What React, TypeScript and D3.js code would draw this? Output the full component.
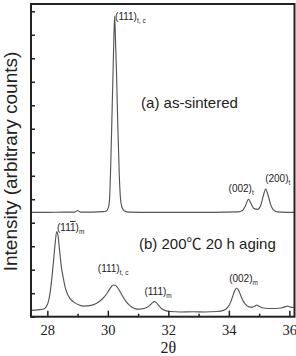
import React, { useEffect, useRef } from 'react';
import * as d3 from 'd3';

// XRD scans as [2θ, intensity] pairs
const sinteredScan: [number, number][] = [
  [27.46, 4.44], [28.0, 4.44], [28.5, 4.45], [28.9, 4.45], [29.0, 4.52], [29.1, 4.45],
  [29.5, 4.45], [29.85, 4.47], [29.95, 4.5], [30.02, 4.65], [30.06, 5.1], [30.09, 6.2],
  [30.13, 8.2], [30.17, 10.3], [30.2, 11.9], [30.225, 12.8], [30.25, 11.9], [30.29, 10.2],
  [30.33, 8.1], [30.38, 5.97], [30.42, 5.0], [30.47, 4.65], [30.55, 4.5], [30.7, 4.45],
  [31.5, 4.44], [32.5, 4.44], [33.5, 4.44], [34.3, 4.46], [34.45, 4.52], [34.55, 4.72],
  [34.65, 5.0], [34.74, 4.8], [34.83, 4.6], [34.95, 4.57], [35.05, 4.72], [35.13, 5.1],
  [35.22, 5.43], [35.3, 5.15], [35.38, 4.78], [35.47, 4.55], [35.6, 4.46], [35.9, 4.44],
  [36.17, 4.44],
];

const agedScan: [number, number][] = [
  [27.46, 0.27], [27.6, 0.28], [27.75, 0.3], [27.88, 0.33], [27.96, 0.42], [28.03, 0.62],
  [28.09, 1.0], [28.15, 1.65], [28.2, 2.3], [28.25, 3.0], [28.31, 3.62], [28.36, 3.4],
  [28.41, 2.75], [28.46, 2.15], [28.52, 1.7], [28.58, 1.3], [28.66, 0.98], [28.76, 0.76],
  [28.9, 0.6], [29.05, 0.5], [29.2, 0.45], [29.4, 0.47], [29.6, 0.55], [29.75, 0.68],
  [29.89, 0.85], [30.0, 1.05], [30.1, 1.25], [30.18, 1.35], [30.25, 1.34], [30.33, 1.22],
  [30.42, 1.03], [30.5, 0.85], [30.6, 0.65], [30.72, 0.48], [30.85, 0.37], [30.97, 0.32],
  [31.1, 0.33], [31.25, 0.37], [31.38, 0.47], [31.47, 0.59], [31.54, 0.64], [31.6, 0.6],
  [31.68, 0.48], [31.78, 0.34], [31.9, 0.26], [32.05, 0.22], [32.4, 0.2], [32.8, 0.21],
  [33.2, 0.2], [33.6, 0.22], [33.82, 0.27], [33.96, 0.4], [34.06, 0.62], [34.14, 0.92],
  [34.2, 1.12], [34.25, 1.21], [34.31, 1.15], [34.38, 0.95], [34.45, 0.72], [34.55, 0.52],
  [34.66, 0.42], [34.78, 0.41], [34.87, 0.46], [34.93, 0.5], [35.0, 0.44], [35.1, 0.38],
  [35.3, 0.35], [35.55, 0.35], [35.75, 0.38], [35.87, 0.43], [35.94, 0.45], [36.02, 0.42],
  [36.1, 0.39], [36.17, 0.4],
];

const majorTicks = [28, 30, 32, 34, 36];
const minorTicks = [29, 31, 33, 35];
const intensityTicks = [0, 1, 2, 3, 4, 5, 6, 7, 8, 9, 10, 11, 12, 13];

// reflection labels: text, overlined digit, closing text, subscript, anchor in data units
const peakLabels = [
  { text: '(111)', bar: '', tail: '', sub: 't, c', theta: 30.24, level: 12.63 },
  { text: '(002)', bar: '', tail: '', sub: 't', theta: 33.99, level: 5.32 },
  { text: '(200)', bar: '', tail: '', sub: 't', theta: 35.2, level: 5.74 },
  { text: '(11', bar: '1', tail: ')', sub: 'm', theta: 28.32, level: 3.65 },
  { text: '(111)', bar: '', tail: '', sub: 't, c', theta: 29.67, level: 1.89 },
  { text: '(111)', bar: '', tail: '', sub: 'm', theta: 31.21, level: 0.92 },
  { text: '(002)', bar: '', tail: '', sub: 'm', theta: 34.01, level: 1.49 },
];

const scanTitles = [
  { text: '(a) as-sintered', theta: 31.1, level: 8.88 },
  { text: '(b) 200\u2103 20 h aging', theta: 31.03, level: 2.9 },
];

const sans = '"Liberation Sans", Arial, "Noto Sans CJK SC", sans-serif';
const serif = '"Liberation Serif", "Times New Roman", serif';

export default function App() {
  const ref = useRef<SVGSVGElement>(null);

  useEffect(() => {
    const svg = d3.select(ref.current);
    svg.selectAll('*').remove();

    const left = 31, right = 294.5, top = 4, bottom = 316.7;

    const x = d3.scaleLinear().domain([27.46, 36.17]).range([left, right]);
    const y = d3.scaleLinear().domain([0, 13.31]).range([bottom, top]);

    const line = d3.line<[number, number]>()
      .x(d => x(d[0]))
      .y(d => y(d[1]))
      .curve(d3.curveMonotoneX);

    // scans
    [sinteredScan, agedScan].forEach(scan => {
      svg.append('path')
        .attr('d', line(scan))
        .attr('fill', 'none')
        .attr('stroke', '#555')
        .attr('stroke-width', 1.15);
    });

    // major ticks with labels, pointing inward
    const xMajor = svg.append('g')
      .attr('transform', `translate(0, ${bottom})`)
      .call(d3.axisBottom(x).tickValues(majorTicks).tickSizeInner(-6).tickSizeOuter(0).tickPadding(8));
    xMajor.select('.domain').remove();
    xMajor.selectAll('line').attr('stroke', '#222').attr('stroke-width', 1.5);
    xMajor.selectAll('text')
      .attr('font-family', serif)
      .attr('font-size', 14.5)
      .attr('fill', '#222');

    // minor ticks
    const xMinor = svg.append('g')
      .attr('transform', `translate(0, ${bottom})`)
      .call(d3.axisBottom(x).tickValues(minorTicks).tickSizeInner(-3).tickSizeOuter(0).tickFormat(() => ''));
    xMinor.select('.domain').remove();
    xMinor.selectAll('line').attr('stroke', '#222').attr('stroke-width', 1.5);

    // intensity ticks, unlabelled
    const yAxis = svg.append('g')
      .attr('transform', `translate(${left}, 0)`)
      .call(d3.axisLeft(y).tickValues(intensityTicks).tickSizeInner(-4).tickSizeOuter(0).tickFormat(() => ''));
    yAxis.select('.domain').remove();
    yAxis.selectAll('line').attr('stroke', '#222').attr('stroke-width', 1.5);

    // frame
    svg.append('rect')
      .attr('x', left)
      .attr('y', top)
      .attr('width', right - left)
      .attr('height', bottom - top)
      .attr('fill', 'none')
      .attr('stroke', '#222')
      .attr('stroke-width', 2);

    // axis titles
    svg.append('text')
      .attr('x', (x(28) + x(36)) / 2)
      .attr('y', 352.5)
      .attr('text-anchor', 'middle')
      .attr('font-family', serif)
      .attr('font-size', 16)
      .attr('fill', '#222')
      .text('2\u03b8');

    svg.append('text')
      .attr('transform', `translate(17, 161.5) rotate(-90)`)
      .attr('text-anchor', 'middle')
      .attr('font-family', sans)
      .attr('font-size', 19)
      .attr('fill', '#222')
      .text('Intensity (arbitrary counts)');

    // scan titles
    svg.selectAll('text.title')
      .data(scanTitles)
      .enter().append('text')
      .attr('class', 'title')
      .attr('x', d => x(d.theta))
      .attr('y', d => y(d.level))
      .attr('font-family', sans)
      .attr('font-size', 15)
      .attr('fill', '#222')
      .text(d => d.text);

    // reflection labels
    const labels = svg.selectAll('text.peak')
      .data(peakLabels)
      .enter().append('text')
      .attr('class', 'peak')
      .attr('x', d => x(d.theta))
      .attr('y', d => y(d.level))
      .attr('font-family', sans)
      .attr('font-size', 10)
      .attr('fill', '#222');
    labels.append('tspan').text(d => d.text);
    labels.filter(d => d.bar !== '').append('tspan')
      .style('text-decoration', 'overline')
      .text(d => d.bar);
    labels.filter(d => d.tail !== '').append('tspan').text(d => d.tail);
    labels.append('tspan')
      .attr('dy', 3)
      .attr('font-size', 6.5)
      .text(d => d.sub);
  }, []);

  return (
    <svg
      ref={ref}
      width={296}
      height={356}
      style={{ position: 'absolute', left: 0, top: 0, background: '#fff' }}
    />
  );
}
